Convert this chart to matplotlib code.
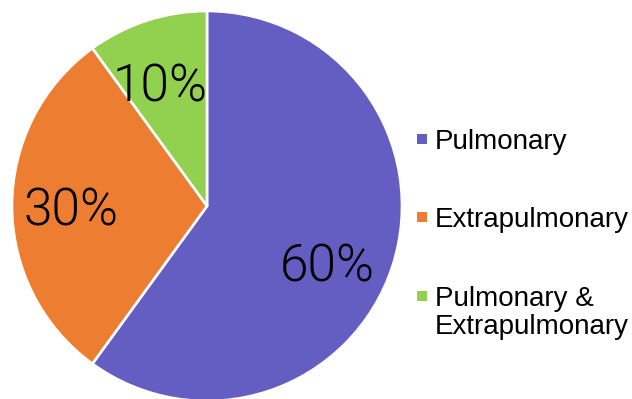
import matplotlib.pyplot as plt
from matplotlib.patches import Rectangle
import numpy as np

labels = ["Pulmonary", "Extrapulmonary", "Pulmonary &\nExtrapulmonary"]
shares = [60, 30, 10]
colors = ["#655EC2", "#ED7D31", "#92D050"]

W, H = 632, 399
fig = plt.figure(figsize=(W / 100, H / 100), dpi=100)

# pie centred at (207, 206) px with a 195 px radius
cx, cy, r = 207, 206, 195
ax = fig.add_axes([(cx - r) / W, (H - cy - r) / H, 2 * r / W, 2 * r / H])
wedges, texts, autotexts = ax.pie(
    shares, colors=colors, startangle=90, counterclock=False,
    autopct="%d%%", pctdistance=0.68,
    wedgeprops=dict(edgecolor="white", linewidth=1.9),
    textprops=dict(family="Roboto", fontweight=300, fontsize=37,
                   color="black"),
)
ax.set_xlim(-1, 1)
ax.set_ylim(-1, 1)
ax.set_aspect("auto")

# label placement: mid angle of each slice, the big one nudged lower,
# the small one kept left of the vertical edge
for w, t in zip(wedges, autotexts):
    span = w.theta2 - w.theta1
    mid = 0.5 * (w.theta1 + w.theta2)
    dx = 0.0
    if span > 180:
        mid, dist = -25, 0.68
    elif span > 50:
        dist = 0.70
    else:
        dist, dx = 0.67, -0.035
    a = np.deg2rad(mid)
    t.set_position((dist * np.cos(a) + dx, dist * np.sin(a) - 0.03))

# legend, marker lined up with the first line of each label
rows = [139, 217, 296]
for lab, col, y in zip(labels, colors, rows):
    fig.add_artist(Rectangle((417 / W, 1 - (y + 5) / H), 10 / W, 10 / H,
                             facecolor=col, edgecolor="none",
                             transform=fig.transFigure))
    fig.text(435 / W, 1 - (y - 10) / H, lab, family="Liberation Sans",
             fontsize=20, va="top", ha="left", linespacing=1.08)

fig.savefig("out.png", dpi=100)
